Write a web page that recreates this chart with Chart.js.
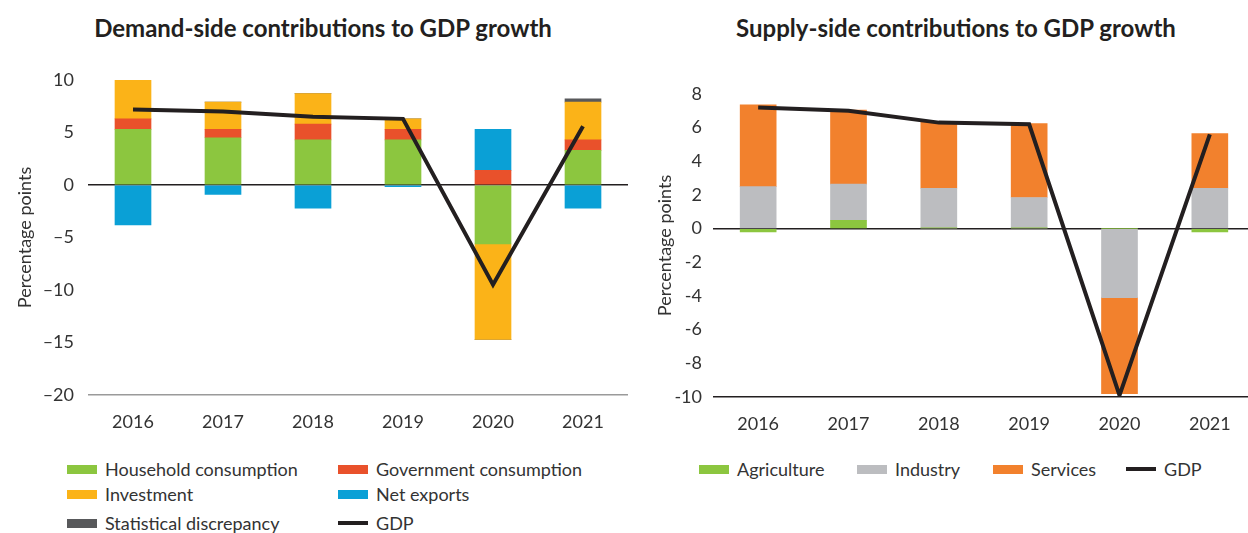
<!DOCTYPE html>
<html>
<head>
<meta charset="utf-8">
<title>Contributions to GDP growth</title>
<script src="https://cdn.jsdelivr.net/npm/chart.js@4"></script>
<style>
    html, body { margin: 0; padding: 0; width: 1248px; height: 533px; overflow: hidden; background: #fff; }
    body { position: relative; font-family: Lato, "Open Sans", sans-serif; color: #333; }
    .title { position: absolute; top: 13px; font-weight: bold; font-size: 24px; line-height: 30px; color: #231f20; text-align: center; }
    .box { position: absolute; top: 0; height: 440px; }
    .legend { position: absolute; font-size: 18px; color: #333; }
    .item { position: absolute; white-space: nowrap; line-height: 22px; }
    .item span { position: absolute; left: 0; top: 7px; width: 30px; height: 9px; }
    .item span.line { top: 9px; height: 4px; }
    .item b { font-weight: normal; position: absolute; left: 38px; top: 0; }
</style>
</head>
<body>
<div class="title" style="left:0; width:646px;">Demand-side contributions to GDP growth</div>
<div class="title" style="left:640px; width:632px;">Supply-side contributions to GDP growth</div>
<div class="box" style="left:0; width:640px;"><canvas id="demandChart"></canvas></div>
<div class="box" style="left:640px; width:620px;"><canvas id="supplyChart"></canvas></div>
<div class="legend" id="demandLegend"></div>
<div class="legend" id="supplyLegend"></div>

<script>
// Data (percentage points)
const years = ['2016', '2017', '2018', '2019', '2020', '2021'];

// demand side
const householdConsumption = [5.3, 4.5, 4.3, 4.3, -5.6, 3.3];
const governmentConsumption = [1.0, 0.8, 1.5, 1.0, 1.4, 1.0];
const investment = [3.9, 2.6, 2.9, 1.0, -9.1, 3.6];
const netExports = [-3.8, -0.9, -2.2, -0.15, 3.9, -2.2];
const statisticalDiscrepancy = [0, 0, 0, 0, 0, 0.3];
const demandGdp = [7.2, 7.0, 6.5, 6.3, -9.5, 5.6];
const demandTicks = [10, 5, 0, -5, -10, -15, -20];

// supply side
const agriculture = [-0.2, 0.5, 0.05, 0.05, 0, -0.2];
const industry = [2.5, 2.15, 2.35, 1.8, -4.1, 2.4];
const services = [4.85, 4.4, 3.95, 4.4, -5.7, 3.25];
const supplyGdp = [7.2, 7.0, 6.3, 6.2, -9.9, 5.6];
const supplyTicks = [8, 6, 4, 2, 0, -2, -4, -6, -8, -10];

const colors = {
    household: '#8cc63f',
    government: '#e9512b',
    investment: '#fbb318',
    netExports: '#0aa0d6',
    discrepancy: '#58595b',
    gdp: '#231f20',
    agriculture: '#8cc63f',
    industry: '#bcbdc0',
    services: '#f2812d'
};

document.addEventListener('DOMContentLoaded', function() {
    Chart.defaults.font.family = 'Lato, "Open Sans", sans-serif';
    Chart.defaults.color = '#333';

    function barSet(label, data, color) {
        return { type: 'bar', label: label, data: data, backgroundColor: color, borderWidth: 0, barThickness: 36, order: 1 };
    }

    function gdpLine(data) {
        return { type: 'line', label: 'GDP', data: data, borderColor: colors.gdp, borderWidth: 4,
                 pointRadius: 0, tension: 0, fill: false, order: 0 };
    }

    function buildOptions(ticks, area, minus, bottomColor) {
        return {
            responsive: true,
            maintainAspectRatio: false,
            animation: false,
            layout: { padding: { top: area.top, right: area.right, bottom: 0, left: 0 } },
            plugins: { legend: { display: false }, tooltip: { enabled: false } },
            scales: {
                x: {
                    stacked: true,
                    grid: { display: false },
                    border: { display: false },
                    ticks: { font: { size: 18 }, color: '#333', padding: 8 },
                    afterFit: function(scale) { scale.height = area.xHeight; }
                },
                y: {
                    stacked: true,
                    min: ticks[ticks.length - 1],
                    max: ticks[0],
                    afterBuildTicks: function(scale) {
                        scale.ticks = ticks.map(v => ({ value: v }));
                    },
                    grid: {
                        drawTicks: false,
                        lineWidth: 1.5,
                        color: function(ctx) {
                            if (ctx.tick.value === 0) return '#231f20';
                            if (ctx.tick.value === ticks[ticks.length - 1]) return bottomColor;
                            return 'rgba(0,0,0,0)';
                        }
                    },
                    border: { display: false },
                    ticks: {
                        font: { size: 18 },
                        color: '#333',
                        padding: area.tickPad,
                        callback: function(value) {
                            return value < 0 ? minus + Math.abs(value) : String(value);
                        }
                    },
                    title: { display: true, text: 'Percentage points', font: { size: 18 }, color: '#333', padding: { top: 14, bottom: 0 } },
                    afterFit: function(scale) { scale.width = area.yWidth; }
                }
            }
        };
    }

    // Demand-side chart
    const demandCanvas = document.getElementById('demandChart');
    if (demandCanvas) {
        new Chart(demandCanvas, {
            data: {
                labels: years,
                datasets: [
                    barSet('Household consumption', householdConsumption, colors.household),
                    barSet('Government consumption', governmentConsumption, colors.government),
                    barSet('Investment', investment, colors.investment),
                    barSet('Net exports', netExports, colors.netExports),
                    barSet('Statistical discrepancy', statisticalDiscrepancy, colors.discrepancy),
                    gdpLine(demandGdp)
                ]
            },
            options: buildOptions(demandTicks, { top: 80, right: 12, xHeight: 45, yWidth: 88, tickPad: 14 }, '\u2013', '#9a9a9a')
        });
    }

    // Supply-side chart
    const supplyCanvas = document.getElementById('supplyChart');
    if (supplyCanvas) {
        new Chart(supplyCanvas, {
            data: {
                labels: years,
                datasets: [
                    barSet('Agriculture', agriculture, colors.agriculture),
                    barSet('Industry', industry, colors.industry),
                    barSet('Services', services, colors.services),
                    gdpLine(supplyGdp)
                ]
            },
            options: buildOptions(supplyTicks, { top: 94, right: 5, xHeight: 43, yWidth: 73, tickPad: 11 }, '-', '#231f20')
        });
    }

    // HTML legends
    function addLegend(id, items) {
        const el = document.getElementById(id);
        items.forEach(function(it) {
            const row = document.createElement('div');
            row.className = 'item';
            row.style.left = it.x + 'px';
            row.style.top = it.y + 'px';
            row.innerHTML = '<span class="' + (it.line ? 'line' : '') + '" style="background:' + it.color + '"></span><b>' + it.label + '</b>';
            el.appendChild(row);
        });
    }

    addLegend('demandLegend', [
        { label: 'Household consumption', color: colors.household, x: 67, y: 458 },
        { label: 'Government consumption', color: colors.government, x: 338, y: 458 },
        { label: 'Investment', color: colors.investment, x: 67, y: 483 },
        { label: 'Net exports', color: colors.netExports, x: 338, y: 483 },
        { label: 'Statistical discrepancy', color: colors.discrepancy, x: 67, y: 512 },
        { label: 'GDP', color: colors.gdp, x: 338, y: 512, line: true }
    ]);

    addLegend('supplyLegend', [
        { label: 'Agriculture', color: colors.agriculture, x: 699, y: 458 },
        { label: 'Industry', color: colors.industry, x: 857, y: 458 },
        { label: 'Services', color: colors.services, x: 993, y: 458 },
        { label: 'GDP', color: colors.gdp, x: 1126, y: 458, line: true }
    ]);
});
</script>
</body>
</html>
